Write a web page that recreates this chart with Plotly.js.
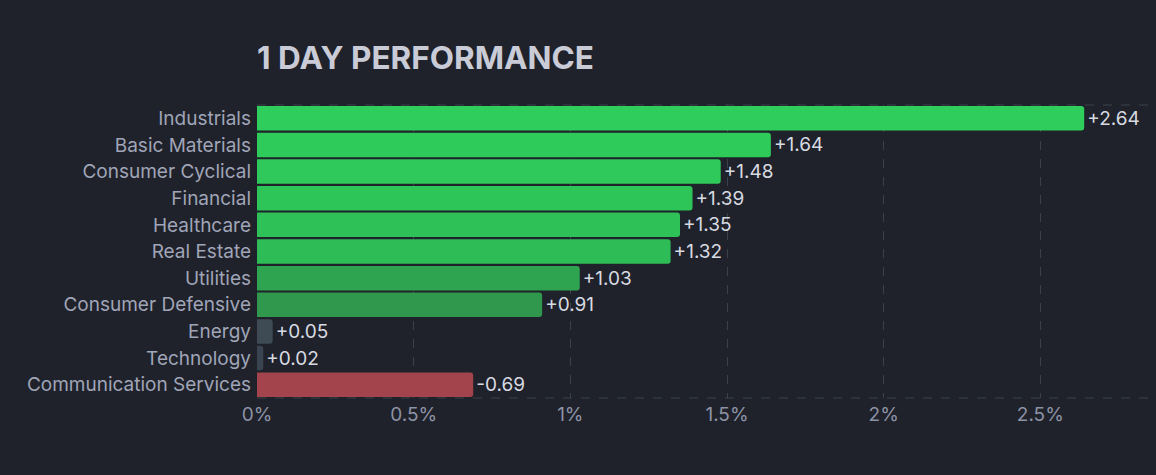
<!DOCTYPE html>
<html>
<head>
<meta charset="utf-8">
<script src="https://cdn.plot.ly/plotly-3.0.1.min.js"></script>
<style>
html,body{margin:0;padding:0;background:#1f222a;}
#chart{width:1156px;height:475px;}
</style>
</head>
<body>
<div id="chart"></div>
<script>
const sectors = ["Industrials","Basic Materials","Consumer Cyclical","Financial","Healthcare","Real Estate","Utilities","Consumer Defensive","Energy","Technology","Communication Services"];
const changes = [2.64,1.64,1.48,1.39,1.35,1.32,1.03,0.91,0.05,0.02,-0.69];
const barColors = ["#2fce5c","#2ecb5b","#2ec95a","#2dc458","#2dc157","#2dbc56","#2ea350","#2f984d","#3e4b54","#3a4450","#a3444c"];
const tickVals = [0,0.5,1,1.5,2,2.5];
const tickText = ["0%","0.5%","1%","1.5%","2%","2.5%"];

const lengths = changes.map(v => Math.abs(v));
const labels = changes.map(v => (v >= 0 ? "+" : "") + v.toFixed(2));

const trace = {
  type: "bar",
  orientation: "h",
  y: sectors,
  x: lengths,
  text: labels,
  textposition: "outside",
  texttemplate: "%{text}",
  cliponaxis: false,
  textfont: {family: "Inter, sans-serif", size: 19, color: "#d8dae2"},
  marker: {color: barColors, cornerradius: 3},
  hoverinfo: "none"
};

const gridColor = "#3b404b";
const layout = {
  width: 1156, height: 475,
  paper_bgcolor: "#1f222a",
  plot_bgcolor: "#1f222a",
  margin: {l: 257, r: 6, t: 105, b: 77},
  bargap: 0.08,
  showlegend: false,
  title: {
    text: "<b>1 DAY PERFORMANCE</b>",
    font: {family: "Inter, sans-serif", size: 31.5, color: "#c9cbd7"},
    xref: "paper", x: 0, xanchor: "left",
    yref: "container", y: 0.878, yanchor: "middle"
  },
  xaxis: {
    range: [0, 2.85],
    tickvals: tickVals,
    ticktext: tickText,
    showgrid: true,
    gridcolor: gridColor,
    griddash: "dash",
    gridwidth: 1,
    zeroline: false,
    showline: false,
    ticks: "",
    ticklabelstandoff: 3,
    tickfont: {family: "Inter, sans-serif", size: 19, color: "#8d92a6"},
    fixedrange: true
  },
  yaxis: {
    autorange: "reversed",
    type: "category",
    showgrid: false,
    zeroline: false,
    ticks: "",
    ticklabelstandoff: 5,
    tickfont: {family: "Inter, sans-serif", size: 19, color: "#a0a5b8"},
    fixedrange: true
  },
  shapes: [
    {type: "line", xref: "paper", yref: "paper", x0: 0, x1: 1, y0: 1, y1: 1, line: {color: gridColor, width: 1, dash: "dash"}, layer: "below"},
    {type: "line", xref: "paper", yref: "paper", x0: 0, x1: 1, y0: 0, y1: 0, line: {color: gridColor, width: 1, dash: "dash"}, layer: "below"}
  ]
};

Plotly.newPlot("chart", [trace], layout, {displayModeBar: false, staticPlot: true});
</script>
</body>
</html>
